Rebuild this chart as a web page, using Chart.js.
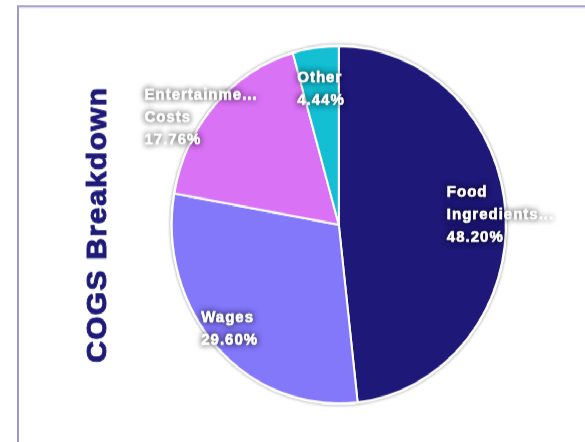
<!DOCTYPE html>
<html><head><meta charset="utf-8">
<script src="https://cdn.jsdelivr.net/npm/chart.js@4.4.1/dist/chart.umd.min.js"></script>
<style>
html,body{margin:0;padding:0;background:#fff;overflow:hidden;}
#stage{position:absolute;left:0;top:0;width:585px;height:413px;transform:scaleY(1.0702);transform-origin:0 0;}
#card{position:absolute;left:17px;top:4.5px;width:620px;height:460px;border:2px solid #9d99cb;box-sizing:border-box;}
#wrap{position:absolute;left:0;top:0;width:585px;height:413px;}
</style></head><body>
<div id="stage"><div id="card"></div><div id="wrap"><canvas id="c"></canvas></div></div>
<script>
const categories = ['Food Ingredients', 'Wages', 'Entertainment Costs', 'Other'];
const labelLines = [['Food', 'Ingredients...'], ['Wages'], ['Entertainme...', 'Costs'], ['Other']];
const values = [48.20, 29.60, 17.76, 4.44];
const sliceColors = ['#1e1878', '#8377fa', '#da72f6', '#14bed3'];
const titleText = 'COGS Breakdown';

const FONT = '"Liberation Sans", Arial, Helvetica, sans-serif';
const TITLE_COLOR = '#1f1b78';

const spacingPlugin = {
  id: 'spacing',
  beforeDraw(chart) { chart.ctx.letterSpacing = '1px'; }
};

// Heavier rendering of the Chart.js title box text (fill + thin stroke)
const boldTitle = {
  id: 'boldTitle',
  afterDraw(chart) {
    const tb = chart.titleBlock;
    if (!tb) return;
    const o = tb.options;
    const f = Chart.helpers.toFont(o.font);
    const pad = Chart.helpers.toPadding(o.padding);
    const tx = tb.left + f.lineHeight / 2 + pad.top;
    const ty = (tb.top + tb.bottom) / 2;
    const ctx = chart.ctx;
    ctx.save();
    ctx.translate(tx, ty);
    ctx.rotate(-Math.PI / 2);
    ctx.font = f.string;
    ctx.letterSpacing = '1.2px';
    ctx.textAlign = 'center';
    ctx.textBaseline = 'middle';
    ctx.fillStyle = TITLE_COLOR;
    ctx.strokeStyle = TITLE_COLOR;
    ctx.lineWidth = 1;
    ctx.lineJoin = 'round';
    ctx.fillText(o.text, 0, 0);
    ctx.strokeText(o.text, 0, 0);
    ctx.restore();
  }
};

const pieHalo = {
  id: 'pieHalo',
  beforeDatasetsDraw(chart) {
    const arc = chart.getDatasetMeta(0).data[0];
    if (!arc) return;
    const {x, y, outerRadius} = arc.getProps(['x', 'y', 'outerRadius'], true);
    const ctx = chart.ctx;
    ctx.save();
    ctx.beginPath();
    ctx.arc(x, y, outerRadius + 1.5, 0, Math.PI * 2);
    ctx.fillStyle = '#fff';
    ctx.shadowColor = 'rgba(0,0,0,0.45)';
    ctx.shadowBlur = 3;
    ctx.fill();
    ctx.restore();
  }
};

const sliceLabels = {
  id: 'sliceLabels',
  afterDatasetsDraw(chart, args, opts) {
    const meta = chart.getDatasetMeta(0);
    const ctx = chart.ctx;
    const data = chart.data.datasets[0].data;
    const total = data.reduce((a, b) => a + b, 0);
    meta.data.forEach((arc, i) => {
      const {x, y, startAngle, endAngle, outerRadius} =
        arc.getProps(['x', 'y', 'startAngle', 'endAngle', 'outerRadius'], true);
      const mid = (startAngle + endAngle) / 2 + opts.angleShift[i] * Math.PI / 180;
      const k = opts.radial[i];
      const cx = x + Math.cos(mid) * outerRadius * k;
      const cy = y + Math.sin(mid) * outerRadius * k;
      const lines = [...labelLines[i], (data[i] / total * 100).toFixed(2) + '%'];
      ctx.save();
      ctx.font = opts.font;
      ctx.letterSpacing = opts.letterSpacing;
      ctx.textAlign = 'left';
      ctx.textBaseline = 'middle';
      const w = Math.max(...lines.map(l => ctx.measureText(l).width));
      const x0 = cx - w / 2;
      lines.forEach((l, j) => {
        const ly = cy + (j - (lines.length - 1) / 2) * opts.lineHeight;
        ctx.shadowColor = 'rgba(0,0,0,0.65)';
        ctx.shadowBlur = 6;
        ctx.fillStyle = '#fff';
        ctx.fillText(l, x0, ly);
        ctx.fillText(l, x0, ly);
        ctx.shadowColor = 'transparent';
        ctx.strokeStyle = '#fff';
        ctx.lineWidth = 0.5;
        ctx.strokeText(l, x0, ly);
      });
      ctx.restore();
    });
  }
};

new Chart(document.getElementById('c'), {
  type: 'pie',
  data: {
    labels: categories,
    datasets: [{
      data: values,
      backgroundColor: sliceColors,
      borderColor: '#ffffff',
      borderWidth: 2
    }]
  },
  options: {
    responsive: true,
    maintainAspectRatio: false,
    animation: false,
    layout: {padding: {top: 42, bottom: 35, left: 0, right: 78}},
    plugins: {
      legend: {display: false},
      tooltip: {enabled: false},
      title: {
        display: true,
        position: 'left',
        text: titleText,
        color: 'rgba(0,0,0,0)',
        font: {family: FONT, size: 28, weight: 'bold', lineHeight: 1.2},
        padding: {top: 81, bottom: 56}
      },
      sliceLabels: {
        radial: [0.97, 0.875, 1.02, 0.765],
        angleShift: [0, 1.5, -6, 0],
        font: 'bold 15px ' + FONT,
        letterSpacing: '1px',
        lineHeight: 21
      }
    }
  },
  plugins: [spacingPlugin, pieHalo, sliceLabels, boldTitle]
});
</script>
</body></html>
